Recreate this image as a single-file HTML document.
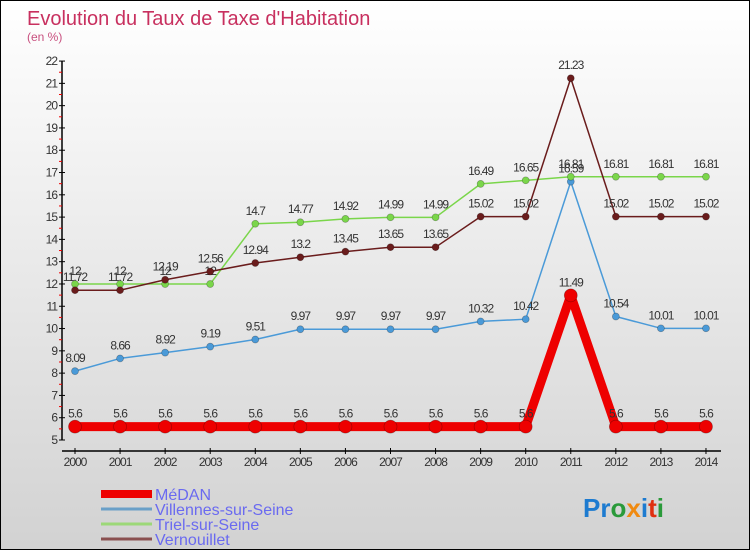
<!DOCTYPE html>
<html><head><meta charset="utf-8"><style>
body{margin:0}
#c{width:748px;height:548px;border:1px solid #000;background:linear-gradient(#fff,#d2d2d2);position:relative;overflow:hidden;font-family:"Liberation Sans",sans-serif}
</style></head><body>
<div id="c">
<svg id="s" width="748" height="548" style="position:absolute;left:0;top:0">
<text x="26" y="24" font-size="20" fill="#c8305f">Evolution du Taux de Taxe d'Habitation</text>
<text x="26" y="40" font-size="12" fill="#c8507f">(en %)</text>
<g id="axes"></g><g id="series"></g><g id="legend"></g>
<text x="582" y="516" font-size="26" font-weight="bold" fill="#1d7bd0">Pr<tspan fill="#2a9a3a">o</tspan><tspan fill="#f08a10">x</tspan><tspan fill="#1d7bd0">i</tspan><tspan fill="#e03010">t</tspan><tspan fill="#2a9a3a">i</tspan></text>
</svg>
</div>
<script>
const years=[2000,2001,2002,2003,2004,2005,2006,2007,2008,2009,2010,2011,2012,2013,2014];
const medan=[5.6,5.6,5.6,5.6,5.6,5.6,5.6,5.6,5.6,5.6,5.6,11.49,5.6,5.6,5.6];
const villennes=[8.09,8.66,8.92,9.19,9.51,9.97,9.97,9.97,9.97,10.32,10.42,16.59,10.54,10.01,10.01];
const triel=[12,12,12,12,14.7,14.77,14.92,14.99,14.99,16.49,16.65,16.81,16.81,16.81,16.81];
const vernouillet=[11.72,11.72,12.19,12.56,12.94,13.2,13.45,13.65,13.65,15.02,15.02,21.23,15.02,15.02,15.02];
const yTicks=[5,6,7,8,9,10,11,12,13,14,15,16,17,18,19,20,21,22];
const NS="http://www.w3.org/2000/svg";
const X=i=>74+i*45.07;
const Y=v=>439-(v-5)*22.29;
function mk(t,a,p){const e=document.createElementNS(NS,t);for(const k in a)e.setAttribute(k,a[k]);p.appendChild(e);return e;}
const ax=document.getElementById('axes');
const yl=mk('line',{x1:61,y1:Y(22),x2:61,y2:Y(5),stroke:'#000','stroke-width':1.5},ax);


yTicks.forEach(v=>{
 mk('line',{x1:58,x2:64,y1:Y(v),y2:Y(v),stroke:'#000'},ax);
 if(v<22) mk('line',{x1:58,x2:61,y1:Y(v+0.5),y2:Y(v+0.5),stroke:'#e00'},ax);
 const t=mk('text',{x:56,y:Y(v)+4,'font-size':12,'text-anchor':'end',fill:'#333','letter-spacing':'-1'},ax);t.textContent=v;
 
 
});
const xl=mk('line',{x1:61,y1:450,x2:720,y2:450,stroke:'#000','stroke-width':1.5},ax);


years.forEach((y,i)=>{
 mk('line',{x1:X(i),x2:X(i),y1:447,y2:453,stroke:'#000'},ax);
 const t=mk('text',{x:X(i),y:465,'font-size':12,'text-anchor':'middle',fill:'#333','letter-spacing':'-1'},ax);t.textContent=y;
 
 
});
const sg=document.getElementById('series');
function series(d,color,w,r,name){
 const g=mk('g',{},sg);
 
 
 mk('polyline',{points:d.map((v,i)=>X(i)+','+Y(v)).join(' '),fill:'none',stroke:color,'stroke-width':w,'stroke-linejoin':'round'},g);
 d.forEach((v,i)=>{
  const c=mk('circle',{cx:X(i),cy:Y(v),r:r,fill:color,stroke:'rgba(0,0,0,0.3)','stroke-width':0.7},g);
  
  
  const t=mk('text',{x:X(i),y:Y(v)-9,'font-size':12,'text-anchor':'middle',fill:'#333','letter-spacing':'-1'},g);t.textContent=v;
  
  
 });
}
series(villennes,'#4a9ad8',1.5,3.5,'villennes');
series(triel,'#7ad64a',1.5,3.5,'triel');
series(vernouillet,'#6a1c1c',1.5,3.5,'vernouillet');
series(medan,'#ee0000',9,6.5,'medan');
const lg=document.getElementById('legend');
[['MéDAN','#ee0000',8],['Villennes-sur-Seine','#6aa0c8',3],['Triel-sur-Seine','#9cd878',3],['Vernouillet','#8a5050',3]].forEach((e,i)=>{
 const y=493+i*15;
 const g=mk('g',{},lg);
 
 
 mk('line',{x1:100,x2:151,y1:y,y2:y,stroke:e[1],'stroke-width':e[2]},g);
 const t=mk('text',{x:154,y:y+6,'font-size':16,fill:'#6a6af0'},g);t.textContent=e[0];
});
</script>
</body></html>
